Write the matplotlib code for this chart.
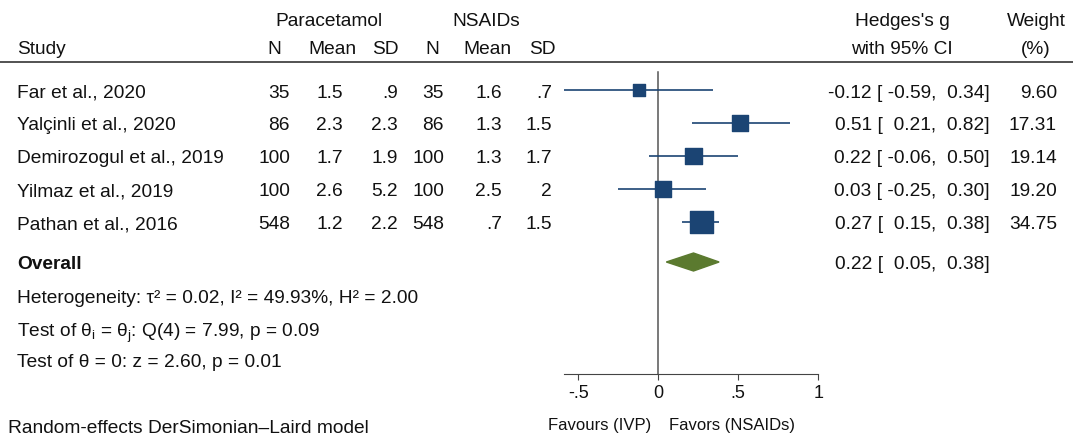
import matplotlib.pyplot as plt

plt.rcParams["font.family"] = ["Liberation Sans", "DejaVu Sans"]
plt.rcParams["mathtext.fontset"] = "custom"
plt.rcParams["mathtext.rm"] = "Liberation Sans"
plt.rcParams["mathtext.it"] = "Liberation Sans"

studies = ["Far et al., 2020", "Yalçinli et al., 2020", "Demirozogul et al., 2019",
           "Yilmaz et al., 2019", "Pathan et al., 2016"]
para_n = ["35", "86", "100", "100", "548"]
para_mean = ["1.5", "2.3", "1.7", "2.6", "1.2"]
para_sd = [".9", "2.3", "1.9", "5.2", "2.2"]
nsaid_n = ["35", "86", "100", "100", "548"]
nsaid_mean = ["1.6", "1.3", "1.3", "2.5", ".7"]
nsaid_sd = [".7", "1.5", "1.7", "2", "1.5"]
g = [-0.12, 0.51, 0.22, 0.03, 0.27]
ci_lo = [-0.59, 0.21, -0.06, -0.25, 0.15]
ci_hi = [0.34, 0.82, 0.50, 0.30, 0.38]
weight = [9.60, 17.31, 19.14, 19.20, 34.75]
overall = [0.22, 0.05, 0.38]
ticks = [-0.5, 0, 0.5, 1]
tick_labels = ["-.5", "0", ".5", "1"]

W, H = 1073, 439
rows = [91, 124, 157, 190, 223]
row_overall = 263
axis_y = 375
fs = 13.8
navy = "#1b4473"
green = "#5b7a2f"
txt = "#111111"

fig = plt.figure(figsize=(W / 100, H / 100), dpi=100)

# text layer in pixel coordinates
tab = fig.add_axes([0, 0, 1, 1])
tab.set_xlim(0, W)
tab.set_ylim(H, 0)
tab.axis("off")

def put(x, y, s, ha="left", **kw):
    tab.text(x, y, s, ha=ha, va="center_baseline", fontsize=kw.pop("size", fs),
             color=txt, **kw)

# header
put(329, 20, "Paracetamol", ha="center")
put(486, 20, "NSAIDs", ha="center")
put(902, 20, "Hedges's g", ha="center")
put(1036, 20, "Weight", ha="center")
put(17, 48, "Study")
for x, s in [(274, "N"), (332, "Mean"), (385, "SD"),
             (432, "N"), (487, "Mean"), (542, "SD")]:
    put(x, 48, s, ha="center")
put(902, 48, "with 95% CI", ha="center")
put(1036, 48, "(%)", ha="center")
tab.plot([0, W], [63, 63], color="#444444", lw=1.3)

# study rows
for i, y in enumerate(rows):
    put(17, y, studies[i])
    put(290, y, para_n[i], ha="right")
    put(343, y, para_mean[i], ha="right")
    put(398, y, para_sd[i], ha="right")
    put(444, y, nsaid_n[i], ha="right")
    put(502, y, nsaid_mean[i], ha="right")
    put(552, y, nsaid_sd[i], ha="right")
    put(990, y, f"{g[i]:.2f} [{ci_lo[i]:6.2f}, {ci_hi[i]:5.2f}]", ha="right")
    put(1057, y, f"{weight[i]:.2f}", ha="right")

put(17, row_overall, "Overall", fontweight="bold")
put(990, row_overall, f"{overall[0]:.2f} [{overall[1]:6.2f}, {overall[2]:5.2f}]", ha="right")
put(17, 297, "Heterogeneity: τ² = 0.02, I² = 49.93%, H² = 2.00")
put(17, 329, r"Test of $\theta_\mathrm{i}$ = $\theta_\mathrm{j}$: Q(4) = 7.99, p = 0.09")
put(17, 361, "Test of θ = 0: z = 2.60, p = 0.01")
put(8, 427, "Random-effects DerSimonian–Laird model")
put(600, 424, "Favours (IVP)", ha="center", size=12)
put(732, 424, "Favors (NSAIDs)", ha="center", size=12)

# forest axes: x in effect units, y in pixel rows
x0, unit = 658.3, 160.0
xmin, xmax = -0.59, 1.0
left = x0 + xmin * unit
ax = fig.add_axes([left / W, 0, (xmax - xmin) * unit / W, 1])
ax.patch.set_alpha(0)
ax.set_xlim(xmin, xmax)
ax.set_ylim(H, 0)
for s in ["top", "right", "left"]:
    ax.spines[s].set_visible(False)
ax.spines["bottom"].set_position(("data", axis_y))
ax.spines["bottom"].set_color("#444444")
ax.set_yticks([])
ax.set_xticks(ticks)
ax.set_xticklabels(tick_labels, fontsize=13, color=txt)
ax.tick_params(axis="x", direction="out", length=4.5, color="#444444", pad=3)

ax.plot([0, 0], [73, axis_y], color="#555555", lw=1.1, zorder=1)
ax.hlines(rows, ci_lo, ci_hi, color=navy, lw=1.2, zorder=2)
ax.scatter(g, rows, s=[w * 7.5 for w in weight], marker="s", color=navy, zorder=3)
ax.fill([overall[1], overall[0], overall[2], overall[0]],
        [row_overall, row_overall - 9, row_overall, row_overall + 9],
        color=green, zorder=3)

fig.savefig("out.png", dpi=100)
